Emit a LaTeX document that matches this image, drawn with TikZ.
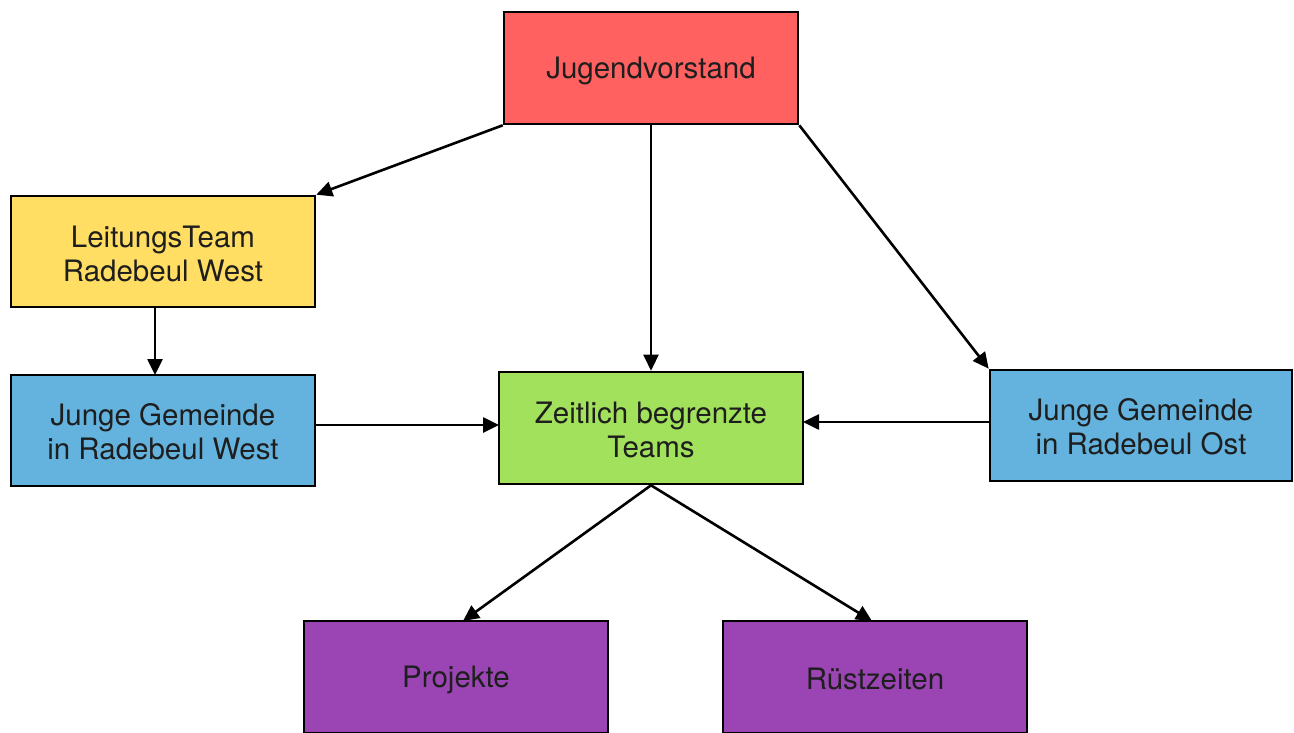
\documentclass[tikz,border=0pt]{standalone}
\usepackage{fontspec}
\setmainfont{TeX Gyre Heros}
\usetikzlibrary{arrows.meta}
\definecolor{cred}{HTML}{FF6161}
\definecolor{cyellow}{HTML}{FFDE63}
\definecolor{cblue}{HTML}{63B3DE}
\definecolor{cgreen}{HTML}{A1E15B}
\definecolor{cpurple}{HTML}{9B45B5}
\definecolor{ctext}{HTML}{1E1E1E}
\begin{document}
\begin{tikzpicture}[x=1pt,y=-1pt,
  box/.style={draw=black,line width=2.6pt,minimum width=304pt,minimum height=111pt,inner sep=0pt,
    align=center,font=\fontsize{29.5}{34}\selectfont,text=ctext},
  lbl/.style={align=center,font=\fontsize{29.5}{34}\selectfont,text=ctext,inner sep=0pt},
  conn/.style={draw=black,line width=2.6pt,-{Triangle[length=16pt,width=15pt]}}]
\useasboundingbox (0,0) rectangle (1294,733);
\node[box,fill=cred,minimum width=294pt,minimum height=112pt] (J) at (651,68) {};
\node[box,fill=cyellow] (L) at (163,251.5) {};
\node[box,fill=cblue] (JW) at (163,430.5) {};
\node[box,fill=cgreen,minimum height=112pt] (Z) at (651,428) {};
\node[box,fill=cblue,minimum width=302pt] (JO) at (1141,425.5) {};
\node[box,fill=cpurple,minimum height=112pt] (P) at (456,677) {};
\node[box,fill=cpurple,minimum height=112pt] (R) at (875,677) {};
\node[lbl] (Jt) at (651,71) {Jugendvorstand};
\node[lbl] (Lt) at (163,254) {LeitungsTeam\\Radebeul West};
\node[lbl] (JWt) at (163,432) {Junge Gemeinde\\in Radebeul West};
\node[lbl] (Zt) at (651,430) {Zeitlich begrenzte\\Teams};
\node[lbl] (JOt) at (1141,427) {Junge Gemeinde\\in Radebeul Ost};
\node[lbl] (Pt) at (456,680) {Projekte};
\node[lbl] (Rt) at (875,679) {Rüstzeiten};
\coordinate (Ls) at (155,307.5);
\coordinate (Jw) at (155,375);
\coordinate (JWe) at (315,425);
\coordinate (Zw) at (499,425);
\coordinate (JOw) at (990,422);
\coordinate (Ze) at (803,422);
\coordinate (Pn) at (463,621);
\coordinate (Rn) at (872,621);
\draw[conn] (J.south west) -- (L.north east);
\draw[conn] (J.south) -- (Z.north);
\draw[conn] (J.south east) -- (JO.north west);
\draw[conn] (Ls) -- (Jw);
\draw[conn] (JWe) -- (Zw);
\draw[conn] (JOw) -- (Ze);
\draw[conn] (Z.south) -- (Pn);
\draw[conn] (Z.south) -- (Rn);
\end{tikzpicture}
\end{document}
